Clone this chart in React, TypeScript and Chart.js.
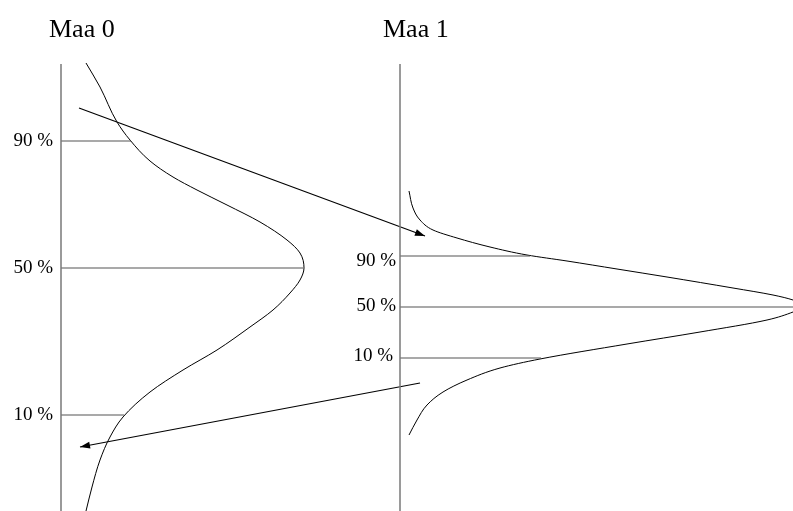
import React, { useEffect, useRef } from "react";
import { Chart, registerables } from "chart.js";

Chart.register(...registerables);

// Plot coordinate space: x 0..793 (left→right), y 0..511 (top→bottom)
const titles = ["Maa 0", "Maa 1"];
const titleX = [49, 383];
const titleY = [37, 37];

const tickLabels = ["90 %", "50 %", "10 %"];
const leftTickY = [141, 268, 415];
const leftTickEndX = [131, 303, 124];
const rightTickY = [256, 307, 358];
const rightTickEndX = [530, 793, 541];
const rightLabelY = [261, 306, 356];

const axisX = [61, 400];
const axisTop = 64;
const axisBottom = 511;

const curve0X = [86, 100, 117, 130, 150, 173, 197, 227, 260, 287, 300, 304, 300, 290, 273, 250, 217, 183, 150, 123, 110, 100, 92, 86];
const curve0Y = [63, 87, 122, 140, 161, 177, 190, 205, 222, 240, 253, 268, 280, 293, 310, 327, 350, 370, 392, 417, 437, 460, 487, 511];

const curve1X = [409, 413, 420, 433, 457, 490, 527, 567, 617, 667, 733, 773, 793, 805, 793, 767, 700, 627, 540, 500, 467, 443, 427, 417, 409];
const curve1Y = [191, 208, 220, 230, 238, 247, 255, 261, 269, 277, 288, 295, 300, 306, 312, 320, 332, 344, 359, 368, 380, 392, 405, 420, 435];

const arrow1X = [79, 425];
const arrow1Y = [108, 236];
const arrow2X = [420, 80];
const arrow2Y = [383, 447];

const zip = (xs: number[], ys: number[]) => xs.map((x, i) => ({ x, y: ys[i] }));

export default function App() {
  const ref = useRef<HTMLCanvasElement | null>(null);

  useEffect(() => {
    if (!ref.current) return;
    const lineDs = (data: { x: number; y: number }[], color: string, width: number, smooth = false, extra: any = {}) => ({
      data,
      showLine: true,
      borderColor: color,
      borderWidth: width,
      pointRadius: 0,
      tension: 0,
      cubicInterpolationMode: smooth ? "monotone" : "default",
      fill: false,
      ...extra,
    });

    const datasets: any[] = [];
    axisX.forEach((x) => datasets.push(lineDs([{ x, y: axisTop }, { x, y: axisBottom }], "#7a7a7a", 1.5)));
    leftTickY.forEach((y, i) => datasets.push(lineDs([{ x: axisX[0], y }, { x: leftTickEndX[i], y }], "#555555", 1.2)));
    rightTickY.forEach((y, i) => datasets.push(lineDs([{ x: axisX[1], y }, { x: rightTickEndX[i], y }], "#555555", 1.2)));
    datasets.push(lineDs(zip(curve0X, curve0Y), "#000000", 1, true));
    datasets.push(lineDs(zip(curve1X, curve1Y), "#000000", 1, true));
    datasets.push(lineDs(zip(arrow1X, arrow1Y), "#000000", 1.2, false, { isArrow: true }));
    datasets.push(lineDs(zip(arrow2X, arrow2Y), "#000000", 1.2, false, { isArrow: true }));

    const textPlugin = {
      id: "texts",
      afterDatasetsDraw(chart: any) {
        const ctx = chart.ctx;
        const xs = chart.scales.x;
        const ys = chart.scales.y;
        ctx.save();
        chart.data.datasets.forEach((ds: any) => {
          if (!ds.isArrow) return;
          const n = ds.data.length;
          const p1 = ds.data[n - 2];
          const p2 = ds.data[n - 1];
          const x1 = xs.getPixelForValue(p1.x), y1 = ys.getPixelForValue(p1.y);
          const x2 = xs.getPixelForValue(p2.x), y2 = ys.getPixelForValue(p2.y);
          const a = Math.atan2(y2 - y1, x2 - x1);
          const L = 10, W = 3.5;
          ctx.beginPath();
          ctx.moveTo(x2, y2);
          ctx.lineTo(x2 - L * Math.cos(a) + W * Math.sin(a), y2 - L * Math.sin(a) - W * Math.cos(a));
          ctx.lineTo(x2 - L * Math.cos(a) - W * Math.sin(a), y2 - L * Math.sin(a) + W * Math.cos(a));
          ctx.closePath();
          ctx.fillStyle = "#000";
          ctx.fill();
        });
        ctx.fillStyle = "#000";
        ctx.font = '26px "Liberation Serif", "Times New Roman", serif';
        ctx.textAlign = "left";
        ctx.textBaseline = "alphabetic";
        titles.forEach((t, i) => ctx.fillText(t, xs.getPixelForValue(titleX[i]), ys.getPixelForValue(titleY[i])));
        ctx.font = '19px "Liberation Serif", "Times New Roman", serif';
        ctx.textAlign = "right";
        ctx.textBaseline = "middle";
        tickLabels.forEach((t, i) => {
          ctx.fillText(t, xs.getPixelForValue(axisX[0] - 8), ys.getPixelForValue(leftTickY[i]));
          ctx.fillText(t, xs.getPixelForValue(axisX[1] - 4 - (i === 2 ? 3 : 0)), ys.getPixelForValue(rightLabelY[i]));
        });
        ctx.restore();
      },
    };

    const chart = new Chart(ref.current, {
      type: "scatter",
      data: { datasets },
      options: {
        animation: false,
        responsive: false,
        maintainAspectRatio: false,
        indexAxis: "y",
        layout: { padding: 0 },
        plugins: { legend: { display: false }, tooltip: { enabled: false } },
        scales: {
          x: { type: "linear", min: 0, max: 793, display: false },
          y: { type: "linear", min: 0, max: 511, reverse: true, display: false },
        },
      },
      plugins: [textPlugin],
    });
    return () => chart.destroy();
  }, []);

  return (
    <div style={{ position: "fixed", left: 0, top: 0, width: 793, height: 511, background: "#fff" }}>
      <canvas ref={ref} width={793} height={511} style={{ width: 793, height: 511, display: "block" }} />
    </div>
  );
}
